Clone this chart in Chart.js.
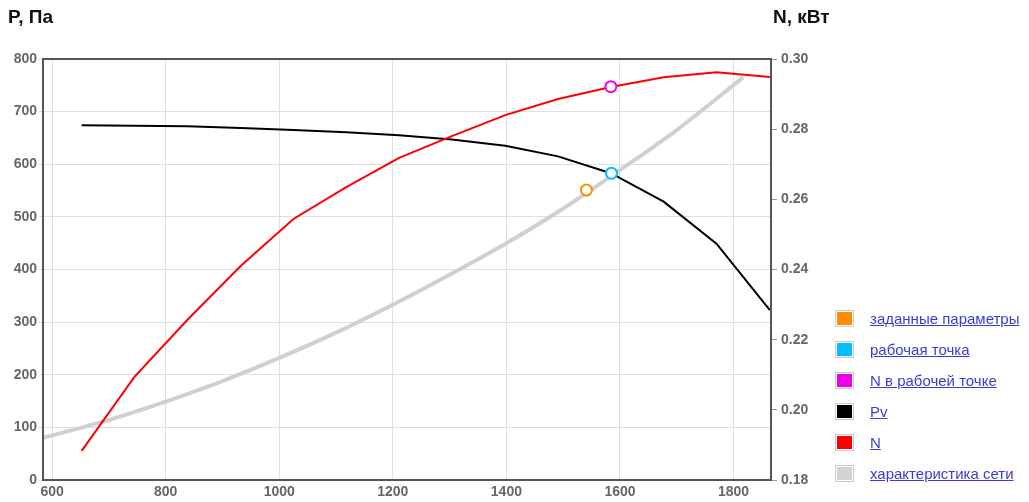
<!DOCTYPE html>
<html>
<head>
<meta charset="utf-8">
<script src="https://cdn.jsdelivr.net/npm/chart.js@4.4.0/dist/chart.umd.min.js"></script>
<style>
    body { margin: 0; background: #fff; font-family: Arial, "Liberation Sans", sans-serif; }
    #wrap { position: relative; width: 1029px; height: 502px; }
    #chart { position: absolute; left: 0; top: 0; }
    .axis-title { position: absolute; top: 6px; font-weight: bold; font-size: 19px; color: #111; }
    #legend { position: absolute; left: 835px; top: 303px; }
    .item { height: 31px; display: flex; align-items: center; }
    .swatch { width: 15px; height: 13px; border: 1px solid #ccc; padding: 1px; margin-right: 16px; }
    .swatch span { display: block; width: 100%; height: 100%; }
    .item a { color: #3b3bd4; font-size: 15px; text-decoration: underline; }
</style>
</head>
<body>
<div id="wrap">
    <canvas id="chart" width="1029" height="502"></canvas>
    <div class="axis-title" style="left:8px;">P, Па</div>
    <div class="axis-title" style="left:773px;">N, кВт</div>
    <div id="legend"></div>
</div>
<script>
// fan curve, common flow points
const flowQ = [652, 745, 838, 932, 1025, 1118, 1211, 1304, 1398, 1491, 1584, 1677, 1770, 1864];
const pressurePv = [674, 673, 672, 669, 665, 661, 655, 647, 635, 615, 583, 529, 449, 323];
const powerN = [0.1883, 0.2094, 0.2256, 0.2410, 0.2544, 0.2635, 0.2718, 0.2780, 0.2840, 0.2886, 0.2920, 0.2948, 0.2962, 0.2949];

// network characteristic
const netQ = [584, 650, 700, 800, 900, 1000, 1100, 1200, 1300, 1400, 1500, 1600, 1700, 1817];
const netP = [80, 99, 114, 149, 188, 232, 280, 333, 390, 450, 516, 589, 665, 765];

// single points
const setPoint = [1541, 551];
const workPoint = [1585, 583];
const workPowerPoint = [1584, 0.2921];

const legendNames = ["заданные параметры", "рабочая точка", "N в рабочей точке", "Pv", "N", "характеристика сети"];
const legendColors = ["#ff8c00", "#00bfff", "#ee00ee", "#000000", "#ff0000", "#d3d3d3"];

const xTicks = { min: 584, max: 1866, step: 200 };
const pTicks = { min: 0, max: 800, step: 100 };
const nTicks = { min: 0.18, max: 0.30, step: 0.02 };

function pairs(xs, ys) {
    return xs.map((x, i) => ({ x: x, y: ys[i] }));
}

const tickFont = { family: "Arial, 'Liberation Sans', sans-serif", size: 14, weight: "bold" };
const tickColor = "#666";

const plotBorder = {
    id: "plotBorder",
    afterDraw(chart) {
        const a = chart.chartArea;
        const c = chart.ctx;
        c.save();
        c.strokeStyle = "#555";
        c.lineWidth = 2;
        c.strokeRect(a.left, a.top, a.right - a.left, a.bottom - a.top);
        c.restore();
    }
};

function marker(label, pt, color, axis) {
    return {
        label: label,
        data: [{ x: pt[0], y: pt[1] }],
        yAxisID: axis,
        showLine: false,
        pointRadius: 5.5,
        pointBorderWidth: 2,
        pointBorderColor: color,
        pointBackgroundColor: "#fff",
        order: 0
    };
}

new Chart(document.getElementById("chart"), {
    type: "line",
    data: {
        datasets: [
            marker(legendNames[0], setPoint, legendColors[0], "y"),
            marker(legendNames[1], workPoint, legendColors[1], "y"),
            marker(legendNames[2], workPowerPoint, legendColors[2], "y2"),
            {
                label: legendNames[3], data: pairs(flowQ, pressurePv), yAxisID: "y",
                borderColor: "#000", borderWidth: 2, pointRadius: 0, tension: 0, order: 2
            },
            {
                label: legendNames[4], data: pairs(flowQ, powerN), yAxisID: "y2",
                borderColor: "#ff0000", borderWidth: 2, pointRadius: 0, tension: 0, order: 1
            },
            {
                label: legendNames[5], data: pairs(netQ, netP), yAxisID: "y",
                borderColor: "#d0d0d0", borderWidth: 4, pointRadius: 0, tension: 0.3, order: 5
            }
        ]
    },
    options: {
        responsive: false,
        animation: false,
        layout: { padding: { top: 59, right: 200, left: 0, bottom: 0 } },
        plugins: { legend: { display: false }, tooltip: { enabled: false } },
        scales: {
            x: {
                type: "linear", min: xTicks.min, max: xTicks.max,
                ticks: { stepSize: xTicks.step, includeBounds: false, font: tickFont, color: tickColor, padding: 4, maxRotation: 0, callback: v => String(v) },
                grid: { color: "#e0e0e0", drawTicks: false },
                border: { display: false },
                afterFit: s => { s.height = 22; }
            },
            y: {
                position: "left", min: pTicks.min, max: pTicks.max,
                ticks: { stepSize: pTicks.step, font: tickFont, color: tickColor, padding: 2 },
                grid: { color: "#e0e0e0", tickLength: 4 },
                border: { display: false },
                afterFit: s => { s.width = 43; }
            },
            y2: {
                position: "right", min: nTicks.min, max: nTicks.max,
                ticks: { stepSize: nTicks.step, font: tickFont, color: tickColor, padding: 4, callback: v => v.toFixed(2) },
                grid: { drawOnChartArea: false, color: "#999", tickLength: 6 },
                border: { display: false },
                afterFit: s => { s.width = 58; }
            }
        }
    },
    plugins: [plotBorder]
});

const legend = document.getElementById("legend");
for (let i = 0; i < legendNames.length; i++) {
    legend.innerHTML += `<div class="item"><div class="swatch"><span style="background:${legendColors[i]}"></span></div><a href="#">${legendNames[i]}</a></div>`;
}
</script>
</body>
</html>
